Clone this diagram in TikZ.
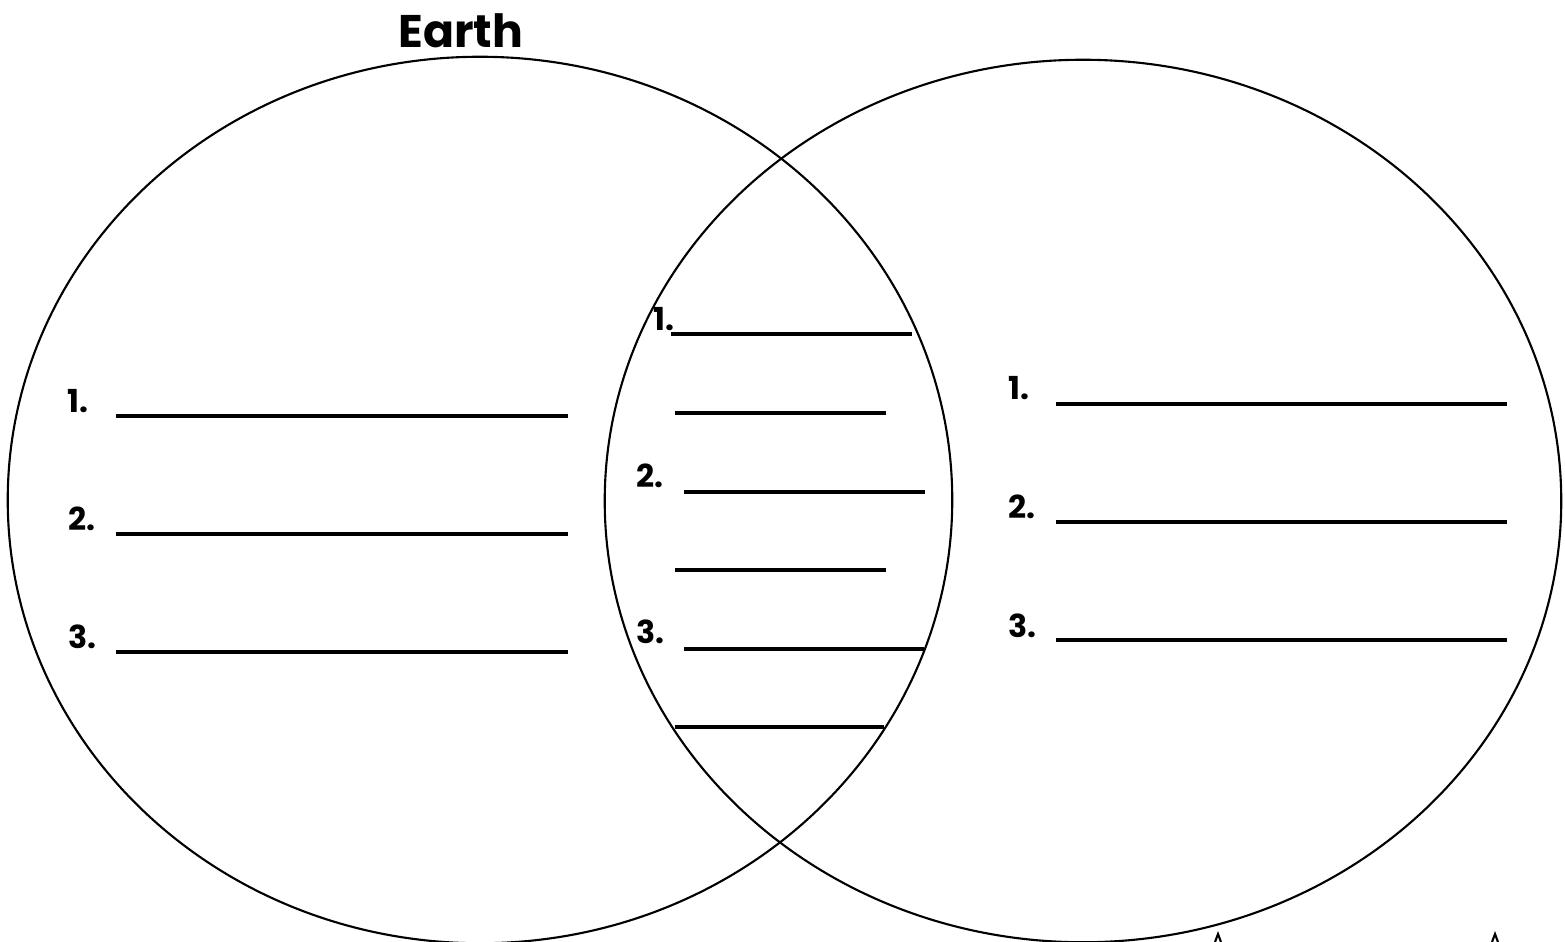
\documentclass[tikz,border=0pt]{standalone}
\usepackage{fontspec}
\setmainfont{Poppins}
\usetikzlibrary{positioning}

\tikzset{
  ring/.style={line width=0.6pt},
  blank/.style={line width=0.9pt},
  num/.style={font=\bfseries\fontsize{9}{10}\selectfont, inner sep=0pt, anchor=base west},
  title/.style={font=\bfseries\fontsize{13}{15}\selectfont, inner sep=0pt}
}

\begin{document}
\begin{tikzpicture}[x=0.01cm, y=-0.01cm]
\useasboundingbox (0,0) rectangle (1565,942);
% the two circles
\draw[ring] (480,500) ellipse [x radius=4.72cm, y radius=4.43cm];
\draw[ring] (1083,501) ellipse [x radius=4.78cm, y radius=4.41cm];
\node[title] (earth) at (461,31) {Earth};

% left part
\node[num] (L1) at (67,412) {1.};
\node[num] (L2) at (68,530) {2.};
\node[num] (L3) at (68,648) {3.};
\draw[blank] (116,416) -- (568,416);
\draw[blank] (116,534) -- (568,534);
\draw[blank] (116,652) -- (568,652);

% middle part
\node[num] (M1) at (653,330) {1.};
\node[num] (M2) at (636,487) {2.};
\node[num] (M3) at (636,643) {3.};
\draw[blank] (671,334) -- (912,334);
\draw[blank] (675,413) -- (886,413);
\draw[blank] (684,492) -- (925,492);
\draw[blank] (675,570) -- (886,570);
\draw[blank] (684,649) -- (924,649);
\draw[blank] (675,727) -- (884,727);

% right part
\node[num] (R1) at (1008,399) {1.};
\node[num] (R2) at (1008,518) {2.};
\node[num] (R3) at (1008,637) {3.};
\draw[blank] (1056,404) -- (1507,404);
\draw[blank] (1056,522) -- (1507,522);
\draw[blank] (1056,640) -- (1507,640);

% bits cut off at the bottom edge
\draw[line width=0.6pt] (1215,942) -- (1218,934) -- (1221,942);
\draw[line width=0.6pt] (1492,942) -- (1495,934) -- (1498,942);
\end{tikzpicture}
\end{document}
